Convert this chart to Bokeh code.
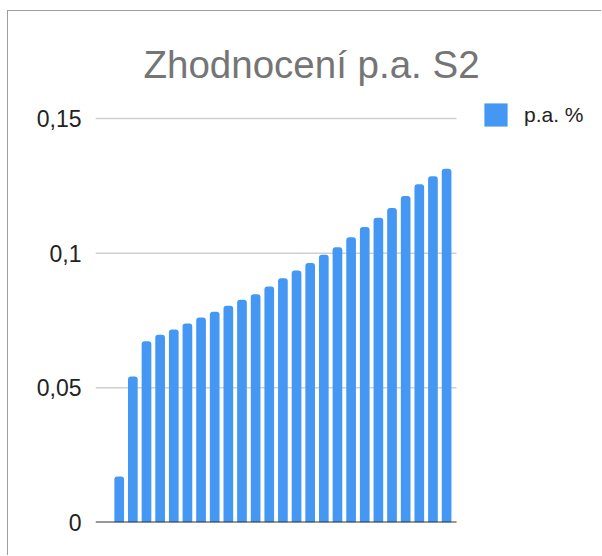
from bokeh.plotting import figure
from bokeh.models import (ColumnDataSource, FixedTicker, Range1d, Title,
                          Legend, LegendItem)
from bokeh.embed import file_html
from bokeh.resources import INLINE

# Data
positions = list(range(1, 26))
values = [0.0171, 0.0542, 0.0673, 0.0697, 0.0717, 0.0739, 0.0761, 0.0783,
          0.0805, 0.0827, 0.0848, 0.0876, 0.0907, 0.0936, 0.0964, 0.0994,
          0.1022, 0.1059, 0.1097, 0.1132, 0.1168, 0.1212, 0.1256, 0.1286,
          0.1314]
y_ticks = [0, 0.05, 0.1, 0.15]
y_tick_labels = ["0", "0,05", "0,1", "0,15"]
series_name = "p.a. %"
chart_title = "Zhodnocení p.a. S2"

# chart-area extent in data units (bars area), frame extends right for the legend
area_x0, area_x1 = -0.738, 25.73
frame_x1 = 36.43

source = ColumnDataSource(data=dict(x=positions, top=values))

p = figure(width=594, height=545, output_backend="svg", toolbar_location=None,
           x_range=Range1d(area_x0, frame_x1), y_range=Range1d(0, 0.1593),
           min_border_left=87, min_border_right=0, min_border_top=82,
           min_border_bottom=34)
p.margin = (10, 0, 0, 7)
p.styles = {"border-top": "1px solid #9e9e9e", "border-left": "1px solid #9e9e9e"}

p.outline_line_color = None
p.background_fill_color = "white"
p.border_fill_color = "white"

# horizontal gridlines limited to the chart area
grid_y = [t for t in y_ticks if t != 0]
p.segment(x0=[area_x0] * len(grid_y), x1=[area_x1] * len(grid_y), y0=grid_y,
          y1=grid_y, line_color="#d0d0d0", line_width=1.5)

r = p.vbar(x="x", top="top", width=0.71, source=source, fill_color="#4597f4",
           line_color=None, border_radius=(3, 3, 0, 0))

# baseline (x axis line)
p.segment(x0=[area_x0], x1=[area_x1], y0=[0], y1=[0], line_color="#333333",
          line_width=2)

# axes
p.xaxis.visible = False
p.xgrid.visible = False
p.ygrid.visible = False
yax = p.yaxis[0]
yax.ticker = FixedTicker(ticks=y_ticks)
yax.major_label_overrides = {t: l for t, l in zip(y_ticks, y_tick_labels)}
yax.axis_line_color = None
yax.major_tick_line_color = None
yax.minor_tick_line_color = None
yax.major_tick_out = 0
yax.major_label_standoff = 14
yax.major_label_text_font = "Liberation Sans"
yax.major_label_text_font_size = "23px"
yax.major_label_text_color = "#222222"

title = Title(text=chart_title, align="left", offset=48, text_font="Liberation Sans",
              text_font_size="38.5px", text_color="#757575", text_font_style="normal",
              standoff=16)
p.add_layout(title, "above")

legend = Legend(items=[LegendItem(label=series_name, renderers=[r])],
                location=(386, 393), padding=0, margin=0, glyph_width=29,
                glyph_height=29, label_height=23, label_standoff=14,
                label_text_font="Liberation Sans", label_text_font_size="21px",
                label_text_color="#222222", border_line_color=None,
                background_fill_alpha=0)
p.add_layout(legend)

open("out.html", "w").write(file_html(p, INLINE))
